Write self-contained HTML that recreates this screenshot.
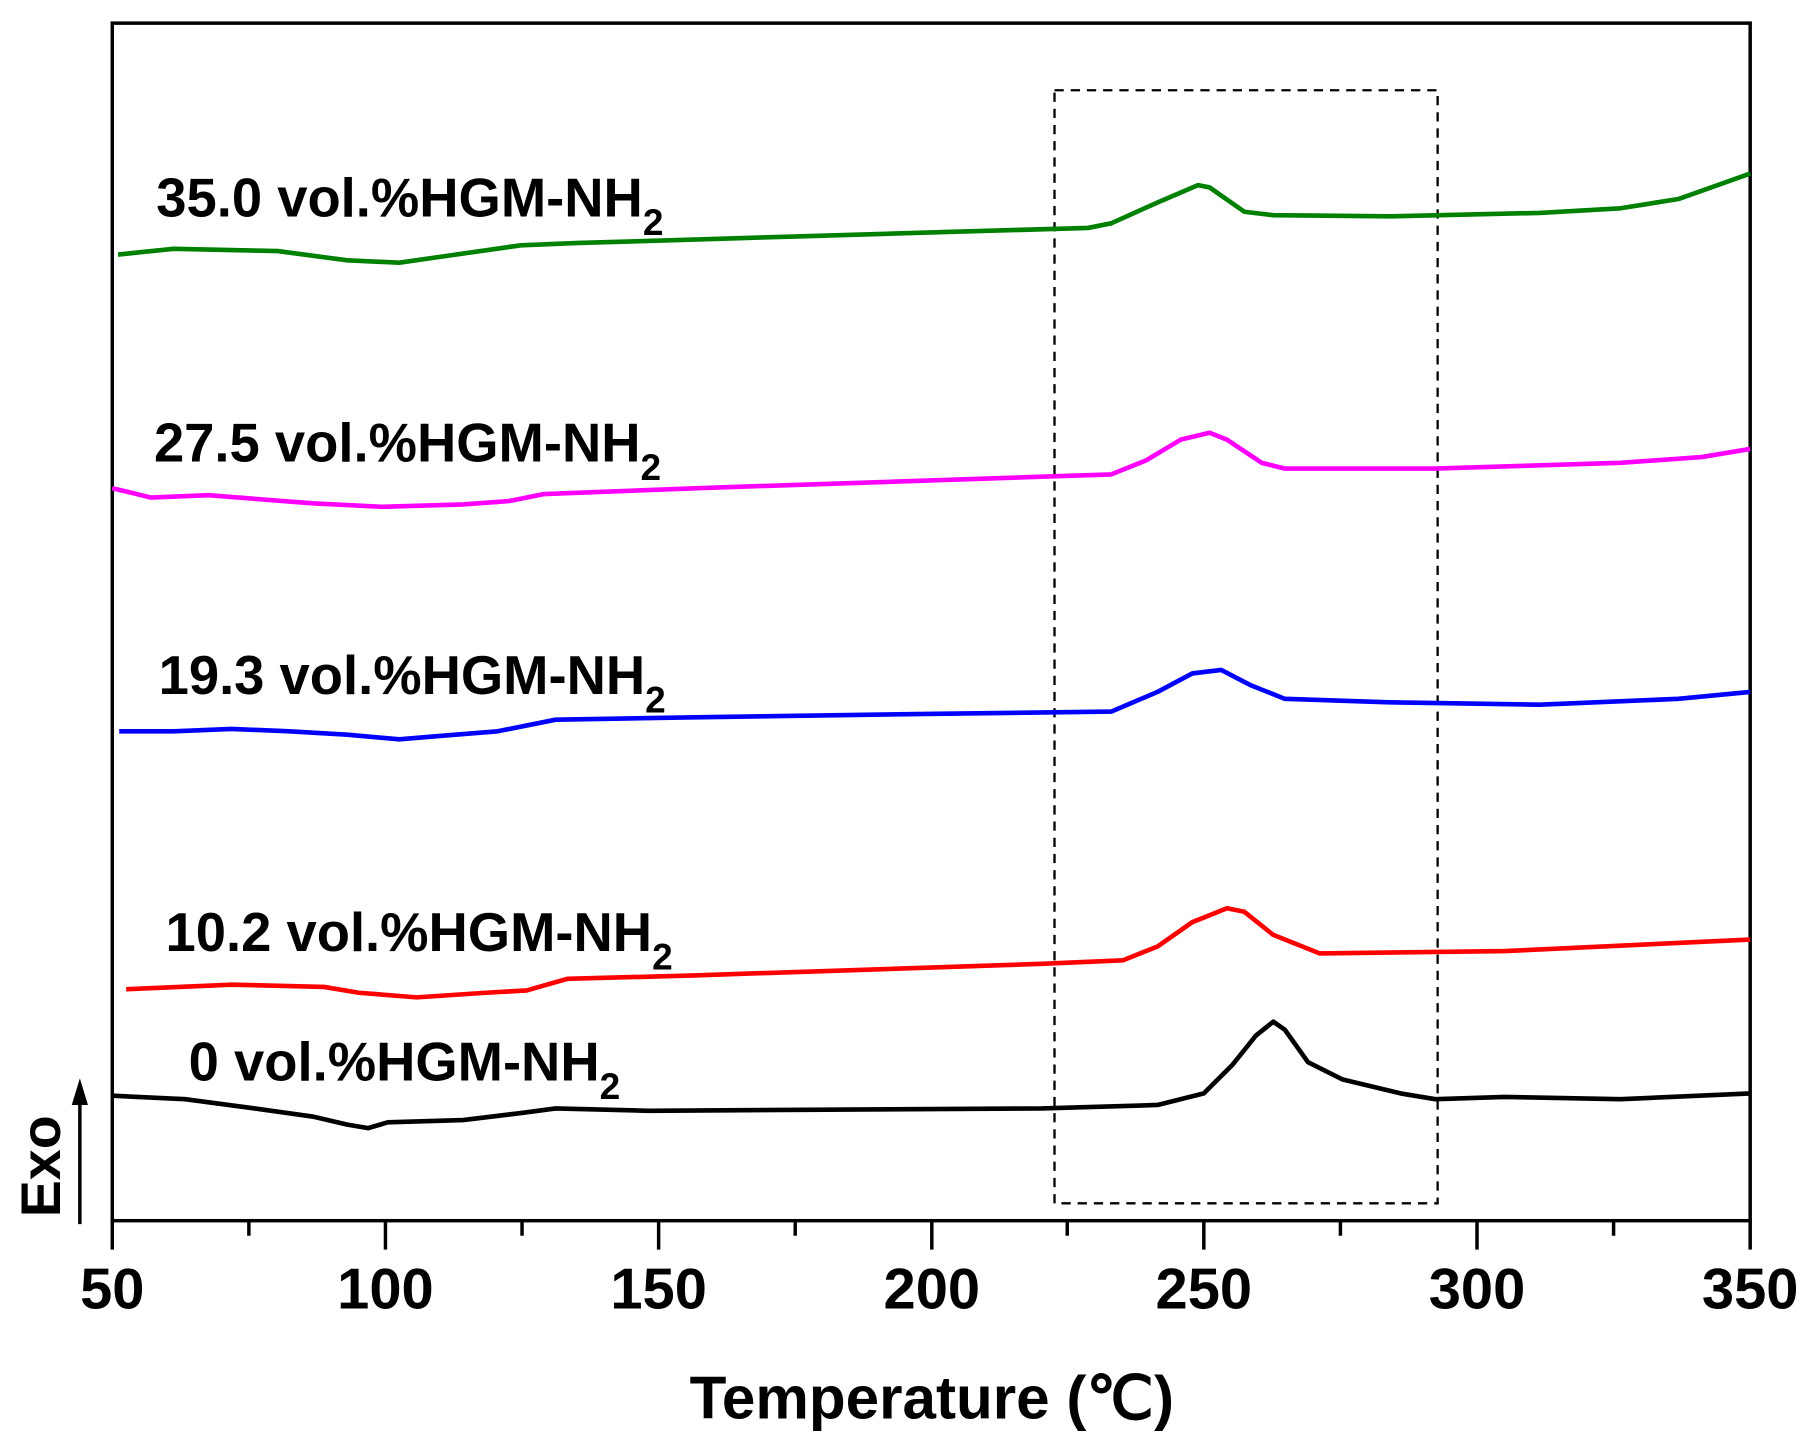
<!DOCTYPE html>
<html><head><meta charset="utf-8"><style>html,body{margin:0;padding:0;background:#fff}svg{display:block}</style></head><body>
<svg width="1815" height="1444" viewBox="0 0 1568 1248" preserveAspectRatio="none" xmlns="http://www.w3.org/2000/svg" font-family="Liberation Sans, Arial, sans-serif" font-weight="bold">
<rect width="1568" height="1248" fill="#fff"/>
<rect x="97" y="20" width="1415" height="1035" fill="none" stroke="#000" stroke-width="3"/>
<g stroke="#000" stroke-width="3">
<line x1="97" y1="1055" x2="97" y2="1080"/><line x1="333" y1="1055" x2="333" y2="1080"/><line x1="569" y1="1055" x2="569" y2="1080"/><line x1="805" y1="1055" x2="805" y2="1080"/><line x1="1040" y1="1055" x2="1040" y2="1080"/><line x1="1276" y1="1055" x2="1276" y2="1080"/><line x1="1512" y1="1055" x2="1512" y2="1080"/>
<line x1="215" y1="1055" x2="215" y2="1068"/><line x1="451" y1="1055" x2="451" y2="1068"/><line x1="687" y1="1055" x2="687" y2="1068"/><line x1="922" y1="1055" x2="922" y2="1068"/><line x1="1158" y1="1055" x2="1158" y2="1068"/><line x1="1394" y1="1055" x2="1394" y2="1068"/>
</g>
<g font-size="50" text-anchor="middle">
<text x="97" y="1131">50</text><text x="333" y="1131">100</text><text x="569" y="1131">150</text><text x="805" y="1131">200</text><text x="1040" y="1131">250</text><text x="1276" y="1131">300</text><text x="1512" y="1131">350</text>
</g>
<text x="805" y="1226" font-size="52" text-anchor="middle">Temperature (℃)</text>
<text transform="translate(52,1008) rotate(-90)" font-size="48" text-anchor="middle">Exo</text>
<line x1="69" y1="1058" x2="69" y2="950" stroke="#000" stroke-width="3"/>
<polygon points="69,932 62,955 76,955" fill="#000"/>
<rect x="911" y="78" width="331" height="962" fill="none" stroke="#000" stroke-width="2" stroke-dasharray="8,6"/>
<g fill="none" stroke-width="4" stroke-linejoin="round">
<polyline stroke="#008000" points="102,220 150,215 240,217 300,225 345,227 380,222 450,212 500,210 600,207 700,204 800,201 940,197 960,193 1000,175 1035,160 1045,162 1075,183 1100,186 1200,187 1330,184 1400,180 1450,172 1512,150"/>
<polyline stroke="#ff00ff" points="97,422 110,425 130,430 180,428 270,435 330,438 400,436 440,433 470,427 600,422 900,412 960,410 990,398 1020,380 1045,374 1060,380 1090,400 1110,405 1240,405 1400,400 1470,395 1512,388"/>
<polyline stroke="#0000ff" points="103,632 150,632 200,630 250,632 300,635 345,639 380,636 430,632 480,622 600,620 800,617 960,615 1000,598 1030,582 1055,579 1080,592 1110,604 1200,607 1330,609 1450,604 1512,598"/>
<polyline stroke="#ff0000" points="109,855 200,851 280,853 310,858 360,862 420,858 455,856 490,846 600,843 900,833 970,830 1000,818 1030,797 1060,785 1075,788 1100,808 1140,824 1300,822 1512,812"/>
<polyline stroke="#000000" points="97,947 160,950 220,958 270,965 300,972 318,975 335,970 400,968 450,962 480,958 560,960 900,958 1000,955 1040,945 1065,920 1085,895 1100,883 1110,890 1130,918 1160,933 1210,945 1240,950 1300,948 1400,950 1512,945"/>
</g>
<g font-size="47">
<text x="135" y="187">35.0 vol.%HGM-NH<tspan font-size="32" dy="16">2</tspan></text>
<text x="133" y="399">27.5 vol.%HGM-NH<tspan font-size="32" dy="16">2</tspan></text>
<text x="137" y="600">19.3 vol.%HGM-NH<tspan font-size="32" dy="16">2</tspan></text>
<text x="143" y="822">10.2 vol.%HGM-NH<tspan font-size="32" dy="16">2</tspan></text>
<text x="163" y="934">0 vol.%HGM-NH<tspan font-size="32" dy="16">2</tspan></text>
</g>
</svg>
</body></html>
